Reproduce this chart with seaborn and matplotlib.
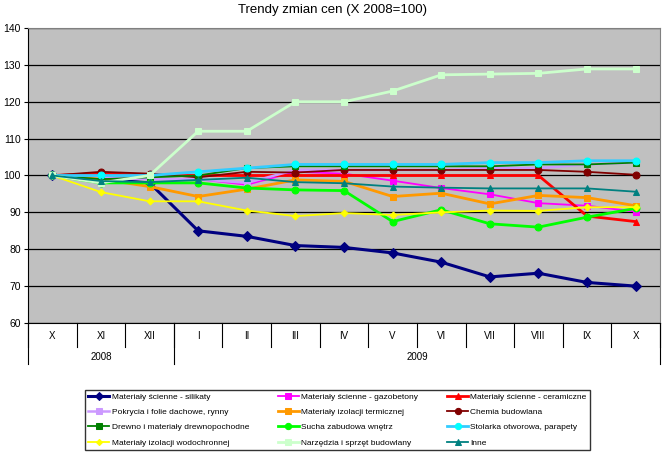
import matplotlib
matplotlib.use('Agg')
import matplotlib.pyplot as plt
import seaborn as sns
import pandas as pd

# months on the axis (Oct 2008 - Oct 2009)
months = ['X', 'XI', 'XII', 'I', 'II', 'III', 'IV', 'V', 'VI', 'VII', 'VIII', 'IX', 'X']
years = ['2008', '2009']

silikaty = [100, 99, 98, 85, 83.5, 81, 80.5, 79, 76.5, 72.5, 73.5, 71, 70]
gazobetony = [100, 99.5, 99, 99, 97.5, 101, 100.5, 98.6, 96.6, 94.9, 92.5, 91.8, 90.2]
ceramiczne = [100, 100.5, 100, 100, 100, 100, 100, 100, 100, 100, 100, 89, 87.5]
pokrycia = [100, 99.5, 99, 99, 98, 101.5, 101.5, 101.5, 101.5, 102, 102, 103, 103.5]
izol_term = [100, 99, 97, 94.3, 96.3, 98.8, 98.4, 94.3, 95.2, 92.3, 94.6, 94, 91.8]
chemia = [100, 101, 100.5, 99.5, 101, 100.8, 101.5, 101.5, 101.5, 101.5, 101.5, 101, 100.2]
drewno = [100, 99, 99.5, 100, 102, 102.5, 102.5, 102.5, 102.5, 102.5, 103, 103, 103.5]
sucha = [100, 98, 98, 98, 96.6, 96.1, 95.9, 87.5, 90.7, 86.9, 86, 88.7, 91.1]
stolarka = [100, 100, 100, 101, 102, 103, 103, 103, 103, 103.5, 103.5, 104, 104]
wodochronna = [100, 95.5, 93, 93, 90.5, 89, 89.8, 89.3, 90, 90.5, 90.4, 91.4, 91.4]
narzedzia = [100, 98, 100, 112, 112, 120, 120, 122.9, 127.3, 127.5, 127.7, 128.9, 128.9]
inne = [100, 98.5, 98.2, 98.8, 99.4, 98.2, 97.9, 97, 96.7, 96.5, 96.5, 96.5, 95.6]

series = [
    ('Materiały ścienne - silikaty', silikaty, '#000080', 'D', 2.2),
    ('Materiały ścienne - gazobetony', gazobetony, '#FF00FF', 's', 1.3),
    ('Materiały ścienne - ceramiczne', ceramiczne, '#FF0000', '^', 2.0),
    ('Pokrycia i folie dachowe, rynny', pokrycia, '#CC99FF', 's', 1.8),
    ('Materiały izolacji termicznej', izol_term, '#FF9900', 's', 2.0),
    ('Chemia budowlana', chemia, '#800000', 'o', 1.3),
    ('Drewno i materiały drewnopochodne', drewno, '#008000', 's', 1.3),
    ('Sucha zabudowa wnętrz', sucha, '#00FF00', 'o', 2.0),
    ('Stolarka otworowa, parapety', stolarka, '#33CCFF', 'o', 2.0),
    ('Materiały izolacji wodochronnej', wodochronna, '#FFFF00', 'D', 1.3),
    ('Narzędzia i sprzęt budowlany', narzedzia, '#CCFFCC', 's', 2.0),
    ('Inne', inne, '#008080', '^', 1.3),
]

plt.rcParams['font.family'] = ['Liberation Sans', 'DejaVu Sans']

fig = plt.figure(figsize=(6.64, 4.54), dpi=100)
ax = fig.add_axes([28 / 664, 1 - 323 / 454, 632 / 664, 295 / 454])
ax.set_facecolor('#C0C0C0')

pos = list(range(len(months)))
for name, vals, color, marker, lw in series:
    df = pd.DataFrame({'x': pos, 'y': vals})
    mfc = '#00FFFF' if name.startswith('Stolarka') else color
    ms = 3.5 if marker == 'D' and lw < 2 else 5
    sns.lineplot(data=df, x='x', y='y', ax=ax, color=color, linewidth=lw,
                 marker=marker, markersize=ms, markerfacecolor=mfc,
                 markeredgecolor=mfc, label=name, zorder=3)

ax.set_xlim(-0.5, 12.5)
ax.set_ylim(60, 140)
ax.set_yticks(range(60, 141, 10))
ax.yaxis.grid(True, color='black', linewidth=0.9)
ax.set_axisbelow(True)
ax.tick_params(axis='y', labelsize=7.5, length=3, pad=2)
ax.set_xticks([])
ax.set_xlabel('')
ax.set_ylabel('')
for side in ['top', 'right']:
    ax.spines[side].set_color('#808080')
ax.spines['left'].set_color('black')
ax.spines['bottom'].set_color('black')

# two-level category axis
tr = ax.get_xaxis_transform()
for i, m in enumerate(months):
    ax.text(i, -0.044, m, transform=tr, ha='center', va='center', fontsize=7)
for k in range(14):
    ax.plot([k - 0.5, k - 0.5], [0, -0.08], transform=tr, color='black',
            linewidth=0.8, clip_on=False)
for xb in [-0.5, 2.5, 12.5]:
    ax.plot([xb, xb], [0, -0.14], transform=tr, color='black',
            linewidth=0.8, clip_on=False)
ax.text(1, -0.115, years[0], transform=tr, ha='center', va='center', fontsize=7)
ax.text(7.5, -0.115, years[1], transform=tr, ha='center', va='center', fontsize=7)

fig.text(0.5, 1 - 10 / 454, 'Trendy zmian cen (X 2008=100)', ha='center',
         va='center', fontsize=9.5)

# legend in Excel row order -> reorder for column-wise filling
h, l = ax.get_legend_handles_labels()
order = [0, 3, 6, 9, 1, 4, 7, 10, 2, 5, 8, 11]
ax.legend([h[i] for i in order], [l[i] for i in order], ncol=3,
          loc='lower left', bbox_to_anchor=(85 / 664, 4 / 454, 505 / 664, 71 / 454),
          bbox_transform=fig.transFigure, mode='expand', fontsize=6,
          frameon=True, fancybox=False, edgecolor='black', handlelength=2.5,
          markerscale=0.9, borderaxespad=0, labelspacing=0.9, columnspacing=1,
          handletextpad=0.3)

fig.savefig('out.png', dpi=100)
